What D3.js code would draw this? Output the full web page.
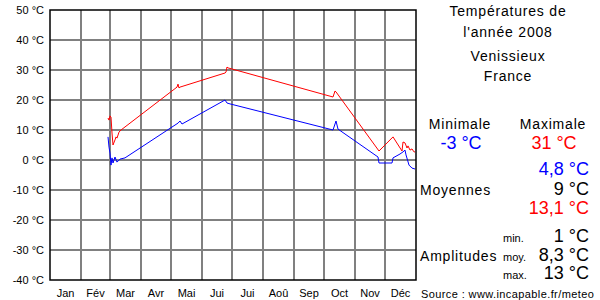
<!DOCTYPE html>
<html>
<head>
<meta charset="utf-8">
<script src="https://cdn.jsdelivr.net/npm/d3@7"></script>
<style>
  body { margin: 0; background: #fff; }
  svg { font-family: "Liberation Sans", Arial, sans-serif; }
</style>
</head>
<body>
<div id="chart"></div>
<script>
"use strict";

// day of year (0 = 1 Jan 2008) and temperature
const maxDays = [58, 59, 60, 61, 62, 63, 65, 66, 67, 69, 71, 127, 128, 129, 130, 175, 176, 177, 178, 283, 285, 286, 329, 343, 352, 353, 355, 357, 358, 360, 362, 364, 365];
const maxTemps = [14, 13.3, 14.7, 14.3, 9, 5, 6.7, 7.7, 7.3, 9.3, 10, 24.3, 25.3, 24, 24.3, 29, 29.3, 31, 30.7, 21, 23, 22.7, 3, 7.7, 3, 6, 5.7, 4, 4.7, 3.3, 3.7, 2.7, 2.7];

const minDays = [58, 59, 60, 61, 62, 63, 64, 65, 67, 70, 75, 128, 130, 132, 175, 177, 180, 283, 286, 288, 328, 329, 342, 343, 350, 353, 355, 356, 359, 362, 365];
const minTemps = [7.7, 4.3, 2.3, -1.7, 0.7, -1, 0, 1, -0.7, 0.3, 0.7, 12.3, 13, 12, 20, 19, 18.7, 10, 13, 10.3, 1, -1, -1, 0.7, 2, 2.7, 3.3, 1.7, -1.7, -2.7, -3];

const monthLabels = ["Jan", "Fév", "Mar", "Avr", "Mai", "Jui", "Jui", "Aoû", "Sep", "Oct", "Nov", "Déc"];
const yTicks = [50, 40, 30, 20, 10, 0, -10, -20, -30, -40];

const titleLines = ["Températures de", "l'année 2008", "Venissieux", "France"];
const minimale = "-3 °C";
const maximale = "31 °C";
const moyennes = ["4,8 °C", "9 °C", "13,1 °C"];
const amplitudeLabels = ["min.", "moy.", "max."];
const amplitudes = ["1 °C", "8,3 °C", "13 °C"];

const width = 600, height = 300;
const plotLeft = 50, plotRight = 416, plotTop = 10, plotBottom = 280;

const svg = d3.select("#chart").append("svg")
    .attr("width", width)
    .attr("height", height);

const start = new Date(2008, 0, 1);
const x = d3.scaleTime()
    .domain([start, new Date(2009, 0, 1)])
    .range([plotLeft, plotRight]);
const y = d3.scaleLinear()
    .domain([-40, 50])
    .range([plotBottom, plotTop]);

const day = d => d3.timeDay.offset(start, d);

// grid
const months = d3.timeMonth.range(start, new Date(2009, 0, 1));
svg.append("g")
    .selectAll("line")
    .data(months.slice(1))
    .join("line")
    .attr("x1", d => x(d)).attr("x2", d => x(d))
    .attr("y1", plotTop).attr("y2", plotBottom)
    .attr("stroke", "#808080")
    .attr("stroke-width", 2);

svg.append("g")
    .selectAll("line")
    .data(yTicks.slice(1, -1))
    .join("line")
    .attr("x1", plotLeft).attr("x2", plotRight)
    .attr("y1", d => y(d)).attr("y2", d => y(d))
    .attr("stroke", "#808080")
    .attr("stroke-width", 2);

svg.append("rect")
    .attr("x", plotLeft).attr("y", plotTop)
    .attr("width", plotRight - plotLeft).attr("height", plotBottom - plotTop)
    .attr("fill", "none")
    .attr("stroke", "#000")
    .attr("stroke-width", 1.5);

// axis labels
svg.append("g")
    .selectAll("text")
    .data(yTicks)
    .join("text")
    .attr("x", 44)
    .attr("y", d => y(d) + 4)
    .attr("text-anchor", "end")
    .attr("font-size", 11)
    .text(d => d + " °C");

svg.append("g")
    .selectAll("text")
    .data(months)
    .join("text")
    .attr("x", d => (x(d) + x(d3.timeMonth.offset(d, 1))) / 2)
    .attr("y", 297)
    .attr("text-anchor", "middle")
    .attr("font-size", 11)
    .text((d, i) => monthLabels[i]);

// temperature lines
const line = d3.line()
    .x(d => x(day(d[0])))
    .y(d => y(d[1]));

svg.append("path")
    .datum(d3.zip(maxDays, maxTemps))
    .attr("d", line)
    .attr("fill", "none")
    .attr("stroke", "#ff0000")
    .attr("stroke-width", 1);

svg.append("path")
    .datum(d3.zip(minDays, minTemps))
    .attr("d", line)
    .attr("fill", "none")
    .attr("stroke", "#0000ff")
    .attr("stroke-width", 1);

// right panel
const panel = svg.append("g").attr("font-size", 14).attr("letter-spacing", 0.8);

panel.selectAll("text.title")
    .data(titleLines)
    .join("text")
    .attr("class", "title")
    .attr("x", 508)
    .attr("y", (d, i) => [16, 37, 61, 81][i])
    .attr("text-anchor", "middle")
    .text(d => d);

panel.append("text").attr("x", 460).attr("y", 129).attr("text-anchor", "middle").text("Minimale");
panel.append("text").attr("x", 553).attr("y", 129).attr("text-anchor", "middle").text("Maximale");

const big = svg.append("g").attr("font-size", 18);
big.append("text").attr("x", 461).attr("y", 149).attr("text-anchor", "middle")
    .attr("fill", "#0000ff").text(minimale);
big.append("text").attr("x", 554).attr("y", 149).attr("text-anchor", "middle")
    .attr("fill", "#ff0000").text(maximale);

big.selectAll("text.moy")
    .data(moyennes)
    .join("text")
    .attr("class", "moy")
    .attr("x", 589)
    .attr("y", (d, i) => 175 + i * 19.5)
    .attr("text-anchor", "end")
    .attr("fill", (d, i) => ["#0000ff", "#000", "#ff0000"][i])
    .text(d => d);

panel.append("text").attr("x", 420).attr("y", 195).text("Moyennes");
panel.append("text").attr("x", 420).attr("y", 261).text("Amplitudes");

big.selectAll("text.amp")
    .data(amplitudes)
    .join("text")
    .attr("class", "amp")
    .attr("x", 589)
    .attr("y", (d, i) => 242 + i * 18.5)
    .attr("text-anchor", "end")
    .text(d => d);

svg.append("g")
    .selectAll("text")
    .data(amplitudeLabels)
    .join("text")
    .attr("x", 503)
    .attr("y", (d, i) => 242 + i * 18.5)
    .attr("font-size", 11)
    .text(d => d);

svg.append("text")
    .attr("x", 421)
    .attr("y", 298)
    .attr("font-size", 11)
    .attr("letter-spacing", 0.4)
    .text("Source : www.incapable.fr/meteo");
</script>
</body>
</html>
